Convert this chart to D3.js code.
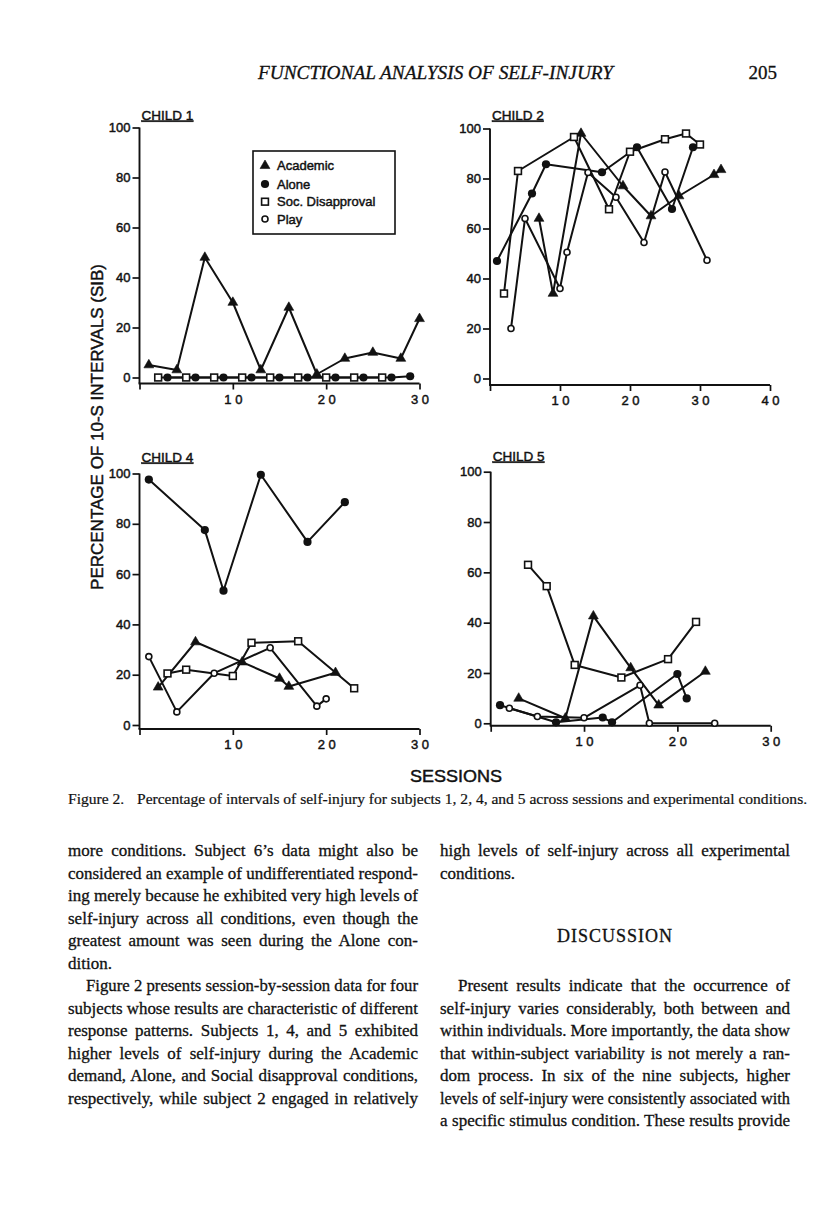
<!DOCTYPE html>
<html>
<head>
<meta charset="utf-8">
<script src="https://cdn.jsdelivr.net/npm/d3@7"></script>
<style>
  html, body { margin: 0; padding: 0; background: #fff; }
  svg { display: block; }
</style>
</head>
<body>
<script>
// ---------------- DATA ----------------
const conditions = ["Academic", "Alone", "Soc. Disapproval", "Play"];
const yTicks = [0, 20, 40, 60, 80, 100];
const xTicks30 = [0, 10, 20, 30];
const xTicks40 = [0, 10, 20, 30, 40];

// [session, percentage]
const child1Academic = [[1,5],[4,3],[7,48],[10,30],[13,3],[16,28],[19,1.3],[22,7.6],[25,10],[28,7.6],[30,23.5]];
const child1Alone    = [[3,0],[6,0],[9,0],[12,0],[15,0],[18,0],[21,0],[24,0],[27,0],[29,0.5]];
const child1SocDis   = [[2,0],[5,0],[8,0],[11,0],[14,0],[17,0],[20,0],[23,0],[26,0]];
const child1Play     = [];

const child2Academic = [[7,64],[9,34],[13,98],[19,77],[23,65],[27,73],[32,81.5],[33,83.5]];
const child2Alone    = [[1,47],[6,74],[8,85.7],[16,82.5],[21,92.5],[26,67.8],[29,92.5]];
const child2SocDis   = [[2,34],[4,83],[12,96.6],[17,67.7],[20,90.7],[25,95.7],[28,98],[30,93.6]];
const child2Play     = [[3,20],[5,64],[10,36],[11,50.5],[14,82.4],[18,72.5],[22,54.4],[25,82.6],[31,47.3]];

const child4Academic = [[2,15],[6,33],[11,25],[15,18.5],[16,15.3],[21,20.8]];
const child4Alone    = [[1,97.6],[7,77.5],[9,53.4],[13,99.5],[18,72.8],[22,88.6]];
const child4SocDis   = [[3,20.5],[5,22],[10,19.5],[12,32.7],[17,33.3],[23,14.6]];
const child4Play     = [[1,27.2],[4,5.2],[8,20.6],[14,30.7],[19,7.5],[20,10.4]];

const child5Academic = [[3,9.9],[8,2],[11,42.6],[15,22],[18,7.2],[23,20.6]];
const child5Alone    = [[1,7.2],[7,0.4],[12,2.3],[13,0.4],[20,19.6],[21,9.9]];
const child5SocDis   = [[4,63],[6,54.5],[9,23.2],[14,18.2],[19,25.5],[22,40.3]];
const child5Play     = [[2,6],[5,2.7],[10,2.2],[16,15.1],[17,0],[24,0]];

const panelTitles = ["CHILD 1", "CHILD 2", "CHILD 4", "CHILD 5"];

const headerText = "FUNCTIONAL ANALYSIS OF SELF-INJURY";
const pageNumber = "205";
const yAxisTitle = "PERCENTAGE OF 10-S INTERVALS (SIB)";
const xAxisTitle = "SESSIONS";
const captionLabel = "Figure 2.";
const captionText = "Percentage of intervals of self-injury for subjects 1, 2, 4, and 5 across sessions and experimental conditions.";

const leftColumn = [
  ["more conditions. Subject 6\u2019s data might also be", "j"],
  ["considered an example of undifferentiated respond-", "j"],
  ["ing merely because he exhibited very high levels of", "j"],
  ["self-injury across all conditions, even though the", "j"],
  ["greatest amount was seen during the Alone con-", "j"],
  ["dition.", "l"],
  ["Figure 2 presents session-by-session data for four", "ji"],
  ["subjects whose results are characteristic of different", "j"],
  ["response patterns. Subjects 1, 4, and 5 exhibited", "j"],
  ["higher levels of self-injury during the Academic", "j"],
  ["demand, Alone, and Social disapproval conditions,", "j"],
  ["respectively, while subject 2 engaged in relatively", "j"]
];
const rightColumn = [
  ["high levels of self-injury across all experimental", "j"],
  ["conditions.", "l"],
  ["", "l"],
  ["", "l"],
  ["", "l"],
  ["", "l"],
  ["Present results indicate that the occurrence of", "ji"],
  ["self-injury varies considerably, both between and", "j"],
  ["within individuals. More importantly, the data show", "j"],
  ["that within-subject variability is not merely a ran-", "j"],
  ["dom process. In six of the nine subjects, higher", "j"],
  ["levels of self-injury were consistently associated with", "j"],
  ["a specific stimulus condition. These results provide", "j"]
];
const sectionHeading = "DISCUSSION";

// ---------------- LAYOUT ----------------
const W = 816, H = 1205;
const INK = "#111";
const SANS = "'Liberation Sans', Arial, Helvetica, sans-serif";
const SERIF = "'Liberation Serif', 'Times New Roman', serif";
const SANS_STROKE = 0.45, SERIF_STROKE = 0.3;

const svg = d3.select("body").append("svg")
  .attr("width", W).attr("height", H)
  .attr("viewBox", `0 0 ${W} ${H}`);
svg.append("rect").attr("width", W).attr("height", H).attr("fill", "#fff");

function inkText(sel, sw) {
  return sel.attr("fill", INK).attr("stroke", INK).attr("stroke-width", sw);
}

const panels = [
  { title: panelTitles[0], left: 139.5, right: 419.5, y0: 377.5, y100: 127.5, off: 6, xTicks: xTicks30,
    series: [child1Academic, child1Alone, child1SocDis, child1Play], titleY: 119.5 },
  { title: panelTitles[1], left: 490, right: 770, y0: 378.5, y100: 128.5, off: 6.5, xTicks: xTicks40,
    series: [child2Academic, child2Alone, child2SocDis, child2Play], titleY: 119.5 },
  { title: panelTitles[2], left: 139.5, right: 419.5, y0: 725, y100: 473.5, off: 4, xTicks: xTicks30,
    series: [child4Academic, child4Alone, child4SocDis, child4Play], titleY: 461.5 },
  { title: panelTitles[3], left: 490.7, right: 770.7, y0: 723.3, y100: 471.7, off: 2.5, xTicks: xTicks30,
    series: [child5Academic, child5Alone, child5SocDis, child5Play], titleY: 460.5 }
];

function drawMarker(sel, kind) {
  if (kind === 0) {
    sel.append("path").attr("d", d3.symbol(d3.symbolTriangle, 42)())
      .attr("fill", INK).attr("stroke", INK).attr("stroke-width", 0.6);
  } else if (kind === 1) {
    sel.append("circle").attr("r", 4.1).attr("fill", INK);
  } else if (kind === 2) {
    sel.append("rect").attr("x", -3.4).attr("y", -3.4).attr("width", 6.8).attr("height", 6.8)
      .attr("fill", "#fff").attr("stroke", INK).attr("stroke-width", 1.6);
  } else {
    sel.append("circle").attr("r", 3).attr("fill", "#fff").attr("stroke", INK).attr("stroke-width", 1.6);
  }
}

function drawPanel(p) {
  const x = d3.scaleLinear().domain([0, d3.max(p.xTicks)]).range([p.left, p.right]);
  const y = d3.scaleLinear().domain([0, 100]).range([p.y0, p.y100]);
  const axisY = p.y0 + p.off;
  const g = svg.append("g");

  const ya = g.append("g").attr("transform", `translate(${p.left},0)`)
    .call(d3.axisLeft(y).tickValues(yTicks).tickSize(7).tickPadding(2).tickSizeOuter(0));
  ya.select(".domain").remove();
  ya.selectAll(".tick line").attr("stroke", INK).attr("stroke-width", 1.7);
  inkText(ya.selectAll(".tick text"), SANS_STROKE).attr("font-family", SANS).attr("font-size", 13);
  ya.attr("font-family", null).attr("font-size", null);

  const xa = g.append("g").attr("transform", `translate(0,${axisY})`)
    .call(d3.axisBottom(x).tickValues(p.xTicks)
      .tickFormat(d => d === 0 ? "" : String(d).split("").join(" "))
      .tickSize(6).tickPadding(5).tickSizeOuter(0));
  xa.select(".domain").remove();
  xa.selectAll(".tick line").attr("stroke", INK).attr("stroke-width", 1.7);
  inkText(xa.selectAll(".tick text"), SANS_STROKE).attr("font-family", SANS).attr("font-size", 13)
    .style("white-space", "pre");
  xa.attr("font-family", null).attr("font-size", null);

  g.append("line").attr("x1", x(0)).attr("x2", x(0)).attr("y1", y(100)).attr("y2", axisY)
    .attr("stroke", INK).attr("stroke-width", 1.9);
  g.append("line").attr("x1", x(0) - 0.95).attr("x2", x(d3.max(p.xTicks))).attr("y1", axisY).attr("y2", axisY)
    .attr("stroke", INK).attr("stroke-width", 1.9);

  inkText(g.append("text").attr("x", p.left + 2).attr("y", p.titleY), SANS_STROKE)
    .attr("font-family", SANS).attr("font-size", 13.5)
    .attr("text-decoration", "underline").text(p.title);

  const line = d3.line().x(d => x(d[0])).y(d => y(d[1]));
  p.series.forEach(s => {
    if (s.length > 1) {
      g.append("path").attr("d", line(s)).attr("fill", "none")
        .attr("stroke", INK).attr("stroke-width", 2).attr("stroke-linejoin", "round");
    }
  });
  p.series.forEach((s, k) => {
    s.forEach(d => {
      const m = g.append("g").attr("transform", `translate(${x(d[0])},${y(d[1])})`);
      drawMarker(m, k);
    });
  });
}

panels.forEach(drawPanel);

// legend (Child 1)
const lg = svg.append("g");
lg.append("rect").attr("x", 253).attr("y", 151).attr("width", 142).attr("height", 83)
  .attr("fill", "#fff").attr("stroke", INK).attr("stroke-width", 1.6);
const legendRows = [165.7, 184, 201.7, 219];
conditions.forEach((c, i) => {
  const m = lg.append("g").attr("transform", `translate(265,${legendRows[i]})`);
  drawMarker(m, i);
  inkText(lg.append("text").attr("x", 277).attr("y", legendRows[i] + 4.6), SANS_STROKE)
    .attr("font-family", SANS).attr("font-size", 13).text(c);
});

// header
inkText(svg.append("text").attr("x", 435.5).attr("y", 79).attr("text-anchor", "middle"), SERIF_STROKE)
  .attr("font-family", SERIF).attr("font-style", "italic").attr("font-size", 18.5)
  .attr("textLength", 355).attr("lengthAdjust", "spacingAndGlyphs")
  .text(headerText);
inkText(svg.append("text").attr("x", 777).attr("y", 79).attr("text-anchor", "end"), SERIF_STROKE)
  .attr("font-family", SERIF).attr("font-size", 19).text(pageNumber);

// y-axis title
inkText(svg.append("text").attr("transform", "translate(103,427) rotate(-90)").attr("text-anchor", "middle"), SANS_STROKE)
  .attr("font-family", SANS).attr("font-size", 17).text(yAxisTitle);

// x-axis title
inkText(svg.append("text").attr("x", 456).attr("y", 782).attr("text-anchor", "middle"), SANS_STROKE)
  .attr("font-family", SANS).attr("font-size", 17)
  .attr("textLength", 92).attr("lengthAdjust", "spacingAndGlyphs").text(xAxisTitle);

// caption
const capLab = inkText(svg.append("text").attr("x", 68).attr("y", 804), SERIF_STROKE * 0.7)
  .attr("font-family", SERIF).attr("font-size", 14).text(captionLabel);
const capTxt = inkText(svg.append("text").attr("x", 137).attr("y", 804), SERIF_STROKE * 0.7)
  .attr("font-family", SERIF).attr("font-size", 14).text(captionText);
{
  const len = capTxt.node().getComputedTextLength();
  const fs = 14 * 671 / len;
  capTxt.attr("font-size", fs);
  capLab.attr("font-size", fs);
}

// body columns
function drawColumn(lines, x0, width) {
  const base = 856, lh = 22.5, indent = 18;
  lines.forEach((ln, i) => {
    const [txt, mode] = ln;
    if (!txt) return;
    const xi = mode.includes("i") ? x0 + indent : x0;
    const w = width - (xi - x0);
    const t = inkText(svg.append("text").attr("x", xi).attr("y", base + i * lh), SERIF_STROKE)
      .attr("font-family", SERIF).attr("font-size", 17).text(txt);
    if (mode.startsWith("j")) {
      const len = t.node().getComputedTextLength();
      const spaces = (txt.match(/ /g) || []).length;
      if (len > w) {
        t.attr("textLength", w).attr("lengthAdjust", "spacingAndGlyphs");
      } else if (spaces > 0) {
        t.attr("word-spacing", (w - len) / spaces);
      }
    }
  });
}
drawColumn(leftColumn, 68, 350);
drawColumn(rightColumn, 440, 350);

inkText(svg.append("text").attr("x", 615).attr("y", 942).attr("text-anchor", "middle"), SERIF_STROKE)
  .attr("font-family", SERIF).attr("font-size", 18).attr("letter-spacing", 1)
  .text(sectionHeading);
</script>
</body>
</html>
